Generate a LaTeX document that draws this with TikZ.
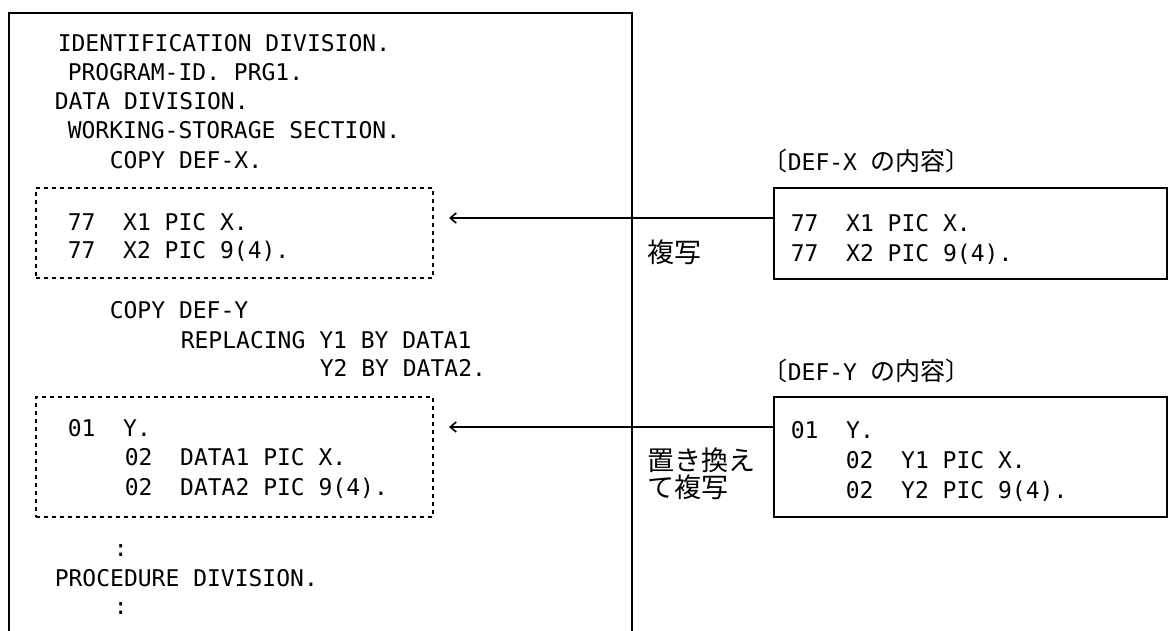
\documentclass[tikz,border=0pt]{standalone}
\usepackage{fontspec}
\setmonofont{DejaVu Sans Mono}
\newfontfamily\jfont{Noto Sans CJK JP}
\usetikzlibrary{arrows.meta,fit}
\def\cbl{\ttfamily\fontsize{23}{23}\selectfont}
\def\jbig{\jfont\fontsize{27}{27}\selectfont}
\def\jsm{\jfont\fontsize{25}{25}\selectfont}

\begin{document}
\begin{tikzpicture}[x=1pt,y=-1pt,line width=1.6pt,
    cobol/.style={anchor=base west,inner sep=0pt,font=\cbl},
    jtxt/.style={anchor=base west,inner sep=0pt,font=\jbig},
    srcbox/.style={draw,inner sep=0pt},
    cpybox/.style={draw,line width=1.4pt,dash pattern=on 4pt off 4pt,inner sep=0pt},
    cpyline/.style={-{Straight Barb[length=6pt,width=10pt]}}]
  \useasboundingbox (0,0) rectangle (1169,631);
  % program
  \draw (9,631) |- (632,13) -- (632,631);
  \node[cobol] (idd)   at (57,52)   {IDENTIFICATION DIVISION.};
  \node[cobol] (pgid)  at (67,81)   {PROGRAM-ID. PRG1.};
  \node[cobol] (datad) at (54,110)  {DATA DIVISION.};
  \node[cobol] (wss)   at (67,139)  {WORKING-STORAGE SECTION.};
  \node[cobol] (cpx)   at (109,168) {COPY DEF-X.};
  \node[cpybox, fit={(36,188) (433,278)}] (cpyx) {};
  \node[cobol] (xa)    at (67,230)  {77\ \ X1 PIC X.};
  \node[cobol] (xb)    at (67,258)  {77\ \ X2 PIC 9(4).};
  \node[cobol] (cpy)   at (109,318) {COPY DEF-Y};
  \node[cobol] (rpa)   at (180,348) {REPLACING Y1 BY DATA1};
  \node[cobol] (rpb)   at (319,376) {Y2 BY DATA2.};
  \node[cpybox, fit={(36,397) (433,517)}] (cpyy) {};
  \node[cobol] (ya)    at (67,436)  {01\ \ Y.};
  \node[cobol] (yb)    at (124,465) {02\ \ DATA1 PIC X.};
  \node[cobol] (yc)    at (124,495) {02\ \ DATA2 PIC 9(4).};
  \node[cobol] (vda)   at (113,556) {:};
  \node[cobol] (prc)   at (54,586)  {PROCEDURE DIVISION.};
  \node[cobol] (vdb)   at (113,614) {:};
  % copy libraries
  \node[cobol] (labx) at (762,171) {{\jsm 〔}DEF-X\ {\jsm の内容〕}};
  \node[srcbox, fit={(774,188) (1167,279)}] (defx) {};
  \node[cobol] (rxa)  at (790,231) {77\ \ X1 PIC X.};
  \node[cobol] (rxb)  at (790,261) {77\ \ X2 PIC 9(4).};
  \node[cobol] (laby) at (762,380) {{\jsm 〔}DEF-Y\ {\jsm の内容〕}};
  \node[srcbox, fit={(774,397) (1167,517)}] (defy) {};
  \node[cobol] (rya)  at (790,438) {01\ \ Y.};
  \node[cobol] (ryb)  at (845,468) {02\ \ Y1 PIC X.};
  \node[cobol] (ryc)  at (845,498) {02\ \ Y2 PIC 9(4).};
  % arrows
  \coordinate (tipx) at (449,218);
  \coordinate (tipy) at (449,427);
  \draw[cpyline] (defx.west |- tipx) -- (tipx);
  \draw[cpyline] (defy.west |- tipy) -- (tipy);
  \node[jtxt] (jx)  at (647,262) {複写};
  \node[jtxt] (jya) at (647,470) {置き換え};
  \node[jtxt] (jyb) at (647,497) {て複写};
\end{tikzpicture}
\end{document}
